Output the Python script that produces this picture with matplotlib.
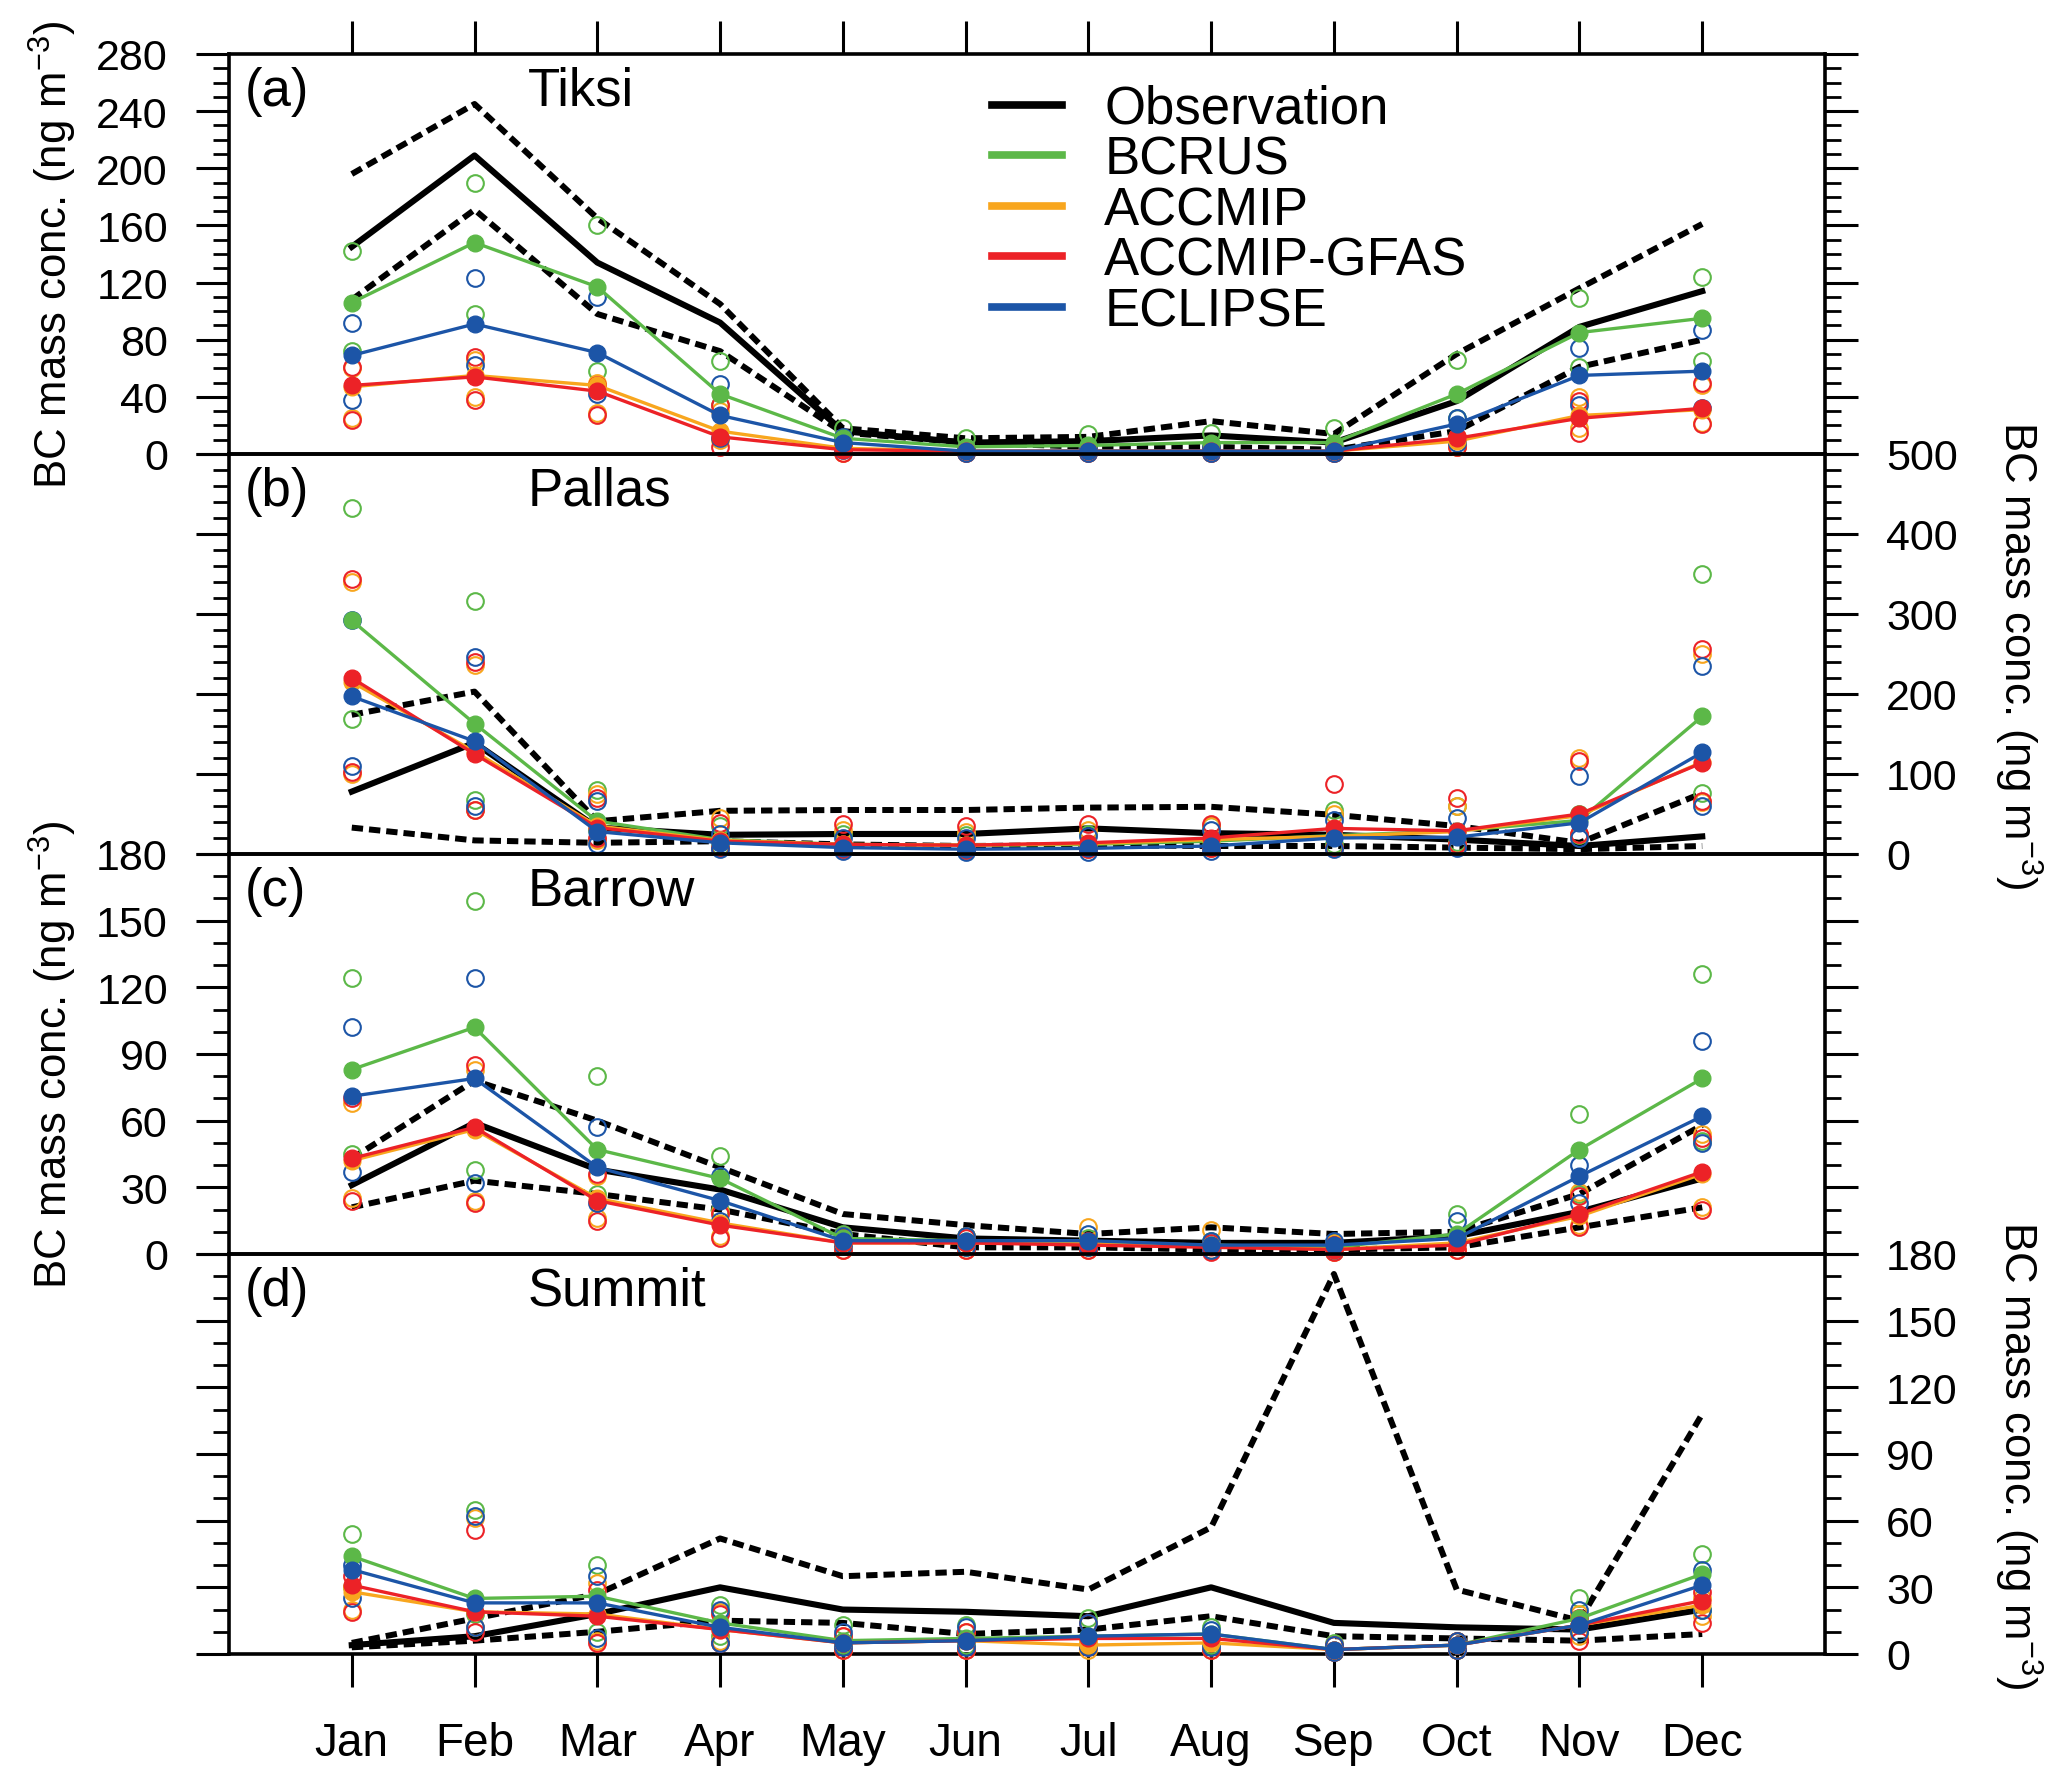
import matplotlib
matplotlib.use('Agg')
import matplotlib.pyplot as plt
from matplotlib.ticker import MultipleLocator
from matplotlib.lines import Line2D

plt.rcParams['font.family'] = ['Liberation Sans', 'DejaVu Sans']
plt.rcParams['mathtext.fontset'] = 'custom'
plt.rcParams['mathtext.rm'] = 'Liberation Sans'
plt.rcParams['mathtext.default'] = 'regular'

months = ['Jan', 'Feb', 'Mar', 'Apr', 'May', 'Jun', 'Jul', 'Aug', 'Sep', 'Oct', 'Nov', 'Dec']
model_names = ['BCRUS', 'ACCMIP', 'ACCMIP-GFAS', 'ECLIPSE']
model_colors = ['#5cb848', '#f8a61e', '#ec2227', '#1c55a7']

# ── (a) Tiksi ──
tiksi_obs    = [145, 209, 134, 92, 16, 8, 9, 13, 8, 37, 89, 114]
tiksi_obs_hi = [196, 245, 165, 105, 18, 11, 12, 23, 14, 70, 116, 161]
tiksi_obs_lo = [108, 171, 98, 72, 15, 8, 5, 5, 3, 16, 61, 80]
tiksi_bcrus    = [106, 148, 117, 42, 11, 5, 6, 8, 8, 42, 85, 95]
tiksi_bcrus_hi = [142, 190, 160, 65, 18, 11, 14, 15, 18, 66, 109, 124]
tiksi_bcrus_lo = [72, 98, 58, 34, 8, 3, 4, 5, 5, 25, 61, 65]
tiksi_accmip    = [47, 55, 48, 16, 4, 2, 2, 2, 2, 9, 27, 31]
tiksi_accmip_hi = [60, 66, 50, 30, 6, 4, 4, 4, 4, 12, 40, 48]
tiksi_accmip_lo = [25, 40, 29, 10, 1, 1, 1, 1, 1, 5, 18, 22]
tiksi_gfas    = [48, 54, 44, 12, 3, 2, 2, 2, 2, 11, 25, 32]
tiksi_gfas_hi = [61, 68, 48, 34, 5, 3, 3, 3, 3, 12, 37, 50]
tiksi_gfas_lo = [24, 38, 27, 5, 1, 1, 1, 1, 1, 5, 15, 21]
tiksi_eclipse    = [69, 91, 71, 27, 8, 2, 2, 2, 2, 21, 55, 58]
tiksi_eclipse_hi = [92, 123, 110, 49, 12, 4, 4, 5, 4, 25, 74, 87]
tiksi_eclipse_lo = [38, 62, 42, 11, 3, 1, 1, 1, 1, 8, 34, 32]

# ── (b) Pallas ──
pallas_obs    = [78, 139, 33, 24, 25, 25, 32, 26, 24, 18, 10, 22]
pallas_obs_hi = [174, 203, 41, 54, 55, 55, 58, 59, 49, 35, 14, 76]
pallas_obs_lo = [33, 17, 14, 16, 12, 10, 11, 10, 10, 8, 6, 10]
pallas_bcrus    = [292, 163, 41, 18, 12, 11, 12, 16, 23, 29, 42, 172]
pallas_bcrus_hi = [432, 316, 80, 35, 25, 24, 25, 35, 55, 60, 50, 350]
pallas_bcrus_lo = [169, 67, 30, 10, 8, 7, 8, 10, 12, 15, 24, 76]
pallas_accmip    = [215, 128, 35, 17, 12, 11, 13, 18, 22, 28, 48, 115]
pallas_accmip_hi = [340, 236, 75, 45, 30, 28, 30, 35, 50, 60, 120, 250]
pallas_accmip_lo = [100, 55, 18, 8, 6, 5, 6, 8, 8, 12, 25, 65]
pallas_gfas    = [220, 125, 33, 16, 12, 11, 14, 20, 32, 29, 50, 114]
pallas_gfas_hi = [344, 240, 70, 39, 37, 35, 38, 38, 87, 70, 116, 256]
pallas_gfas_lo = [103, 55, 20, 8, 6, 5, 6, 8, 8, 12, 25, 66]
pallas_eclipse    = [197, 141, 28, 14, 8, 6, 7, 10, 20, 21, 39, 127]
pallas_eclipse_hi = [293, 246, 66, 25, 20, 20, 22, 30, 42, 45, 97, 235]
pallas_eclipse_lo = [110, 60, 12, 6, 4, 3, 3, 4, 6, 8, 20, 60]

# ── (c) Barrow ──
barrow_obs    = [31, 59, 38, 29, 12, 7, 6, 5, 5, 8, 19, 34]
barrow_obs_hi = [43, 78, 60, 39, 18, 13, 9, 12, 9, 10, 27, 58]
barrow_obs_lo = [21, 33, 27, 20, 9, 3, 3, 2, 2, 3, 12, 21]
barrow_bcrus    = [83, 102, 47, 34, 7, 6, 5, 4, 3, 9, 47, 79]
barrow_bcrus_hi = [124, 159, 80, 44, 9, 8, 7, 6, 5, 18, 63, 126]
barrow_bcrus_lo = [45, 38, 27, 20, 4, 3, 3, 2, 2, 7, 27, 51]
barrow_accmip    = [42, 56, 25, 14, 5, 5, 5, 4, 2, 5, 17, 36]
barrow_accmip_hi = [68, 83, 35, 19, 8, 8, 12, 11, 5, 7, 28, 54]
barrow_accmip_lo = [25, 24, 16, 8, 2, 2, 2, 2, 1, 2, 13, 21]
barrow_gfas    = [43, 57, 24, 13, 5, 5, 4, 3, 2, 4, 18, 37]
barrow_gfas_hi = [70, 85, 36, 18, 7, 7, 6, 5, 4, 6, 26, 52]
barrow_gfas_lo = [24, 23, 15, 7, 2, 2, 2, 1, 1, 2, 12, 20]
barrow_eclipse    = [71, 79, 39, 24, 6, 6, 6, 4, 4, 7, 35, 62]
barrow_eclipse_hi = [102, 124, 57, 35, 8, 8, 9, 6, 6, 15, 40, 96]
barrow_eclipse_lo = [37, 32, 23, 15, 4, 3, 3, 2, 2, 5, 23, 50]

# ── (d) Summit ──
summit_obs    = [4, 8, 18, 30, 20, 19, 17, 30, 14, 12, 11, 20]
summit_obs_hi = [5, 16, 27, 52, 35, 37, 29, 57, 171, 29, 15, 108]
summit_obs_lo = [3, 6, 10, 15, 14, 9, 11, 17, 8, 7, 6, 9]
summit_bcrus    = [44, 25, 26, 14, 6, 7, 8, 9, 2, 4, 16, 36]
summit_bcrus_hi = [54, 65, 40, 22, 13, 13, 16, 12, 5, 6, 25, 45]
summit_bcrus_lo = [30, 18, 10, 8, 4, 4, 4, 4, 1, 2, 10, 20]
summit_accmip    = [28, 19, 18, 11, 5, 6, 4, 5, 2, 4, 13, 22]
summit_accmip_hi = [30, 61, 32, 19, 8, 10, 6, 7, 4, 6, 18, 25]
summit_accmip_lo = [20, 12, 6, 6, 2, 2, 2, 2, 1, 2, 8, 17]
summit_gfas    = [31, 19, 17, 11, 5, 6, 7, 7, 2, 4, 13, 24]
summit_gfas_hi = [35, 56, 29, 18, 8, 10, 14, 8, 4, 6, 16, 28]
summit_gfas_lo = [19, 10, 5, 5, 2, 2, 3, 2, 1, 2, 6, 14]
summit_eclipse    = [38, 23, 23, 12, 5, 6, 8, 9, 2, 4, 13, 31]
summit_eclipse_hi = [40, 62, 35, 20, 10, 12, 14, 11, 4, 6, 20, 38]
summit_eclipse_lo = [25, 12, 7, 5, 3, 3, 3, 3, 1, 2, 10, 20]

stations = [
    ('(a)', 'Tiksi', tiksi_obs, tiksi_obs_hi, tiksi_obs_lo,
     [(tiksi_bcrus, tiksi_bcrus_hi, tiksi_bcrus_lo), (tiksi_accmip, tiksi_accmip_hi, tiksi_accmip_lo),
      (tiksi_gfas, tiksi_gfas_hi, tiksi_gfas_lo), (tiksi_eclipse, tiksi_eclipse_hi, tiksi_eclipse_lo)]),
    ('(b)', 'Pallas', pallas_obs, pallas_obs_hi, pallas_obs_lo,
     [(pallas_bcrus, pallas_bcrus_hi, pallas_bcrus_lo), (pallas_accmip, pallas_accmip_hi, pallas_accmip_lo),
      (pallas_gfas, pallas_gfas_hi, pallas_gfas_lo), (pallas_eclipse, pallas_eclipse_hi, pallas_eclipse_lo)]),
    ('(c)', 'Barrow', barrow_obs, barrow_obs_hi, barrow_obs_lo,
     [(barrow_bcrus, barrow_bcrus_hi, barrow_bcrus_lo), (barrow_accmip, barrow_accmip_hi, barrow_accmip_lo),
      (barrow_gfas, barrow_gfas_hi, barrow_gfas_lo), (barrow_eclipse, barrow_eclipse_hi, barrow_eclipse_lo)]),
    ('(d)', 'Summit', summit_obs, summit_obs_hi, summit_obs_lo,
     [(summit_bcrus, summit_bcrus_hi, summit_bcrus_lo), (summit_accmip, summit_accmip_hi, summit_accmip_lo),
      (summit_gfas, summit_gfas_hi, summit_gfas_lo), (summit_eclipse, summit_eclipse_hi, summit_eclipse_lo)]),
]

# axis settings per panel: (ymax, major, minor, labels on right?)
yaxes = [(280, 40, 10, False), (500, 100, 20, True), (180, 30, 10, False), (180, 30, 10, True)]

ylab = 'BC mass conc. (ng m$^{-3}$)'
x = list(range(12))

fig = plt.figure(figsize=(20.67, 17.9), dpi=100)
left, width = 229 / 2067, 1596 / 2067
ph = 400 / 1790
bottom0 = 1 - 1655 / 1790

axes = []
for i, (tag, name, obs, hi, lo, models) in enumerate(stations):
    ax = fig.add_axes([left, bottom0 + (3 - i) * ph, width, ph])
    ax.set_facecolor('none')
    axes.append(ax)

    ax.plot(x, obs, color='black', lw=4.4, zorder=2)
    ax.plot(x, hi, color='black', lw=4.3, ls=(0, (1.9, 1.0)), zorder=2)
    ax.plot(x, lo, color='black', lw=4.3, ls=(0, (1.9, 1.0)), zorder=2)

    for (mean, mhi, mlo), col in zip(models, model_colors):
        ax.plot(x, mhi, ls='none', marker='o', ms=12, mfc='none', mec=col, mew=1.5,
                zorder=3, clip_on=False)
        ax.plot(x, mlo, ls='none', marker='o', ms=12, mfc='none', mec=col, mew=1.5,
                zorder=3, clip_on=False)
    for (mean, mhi, mlo), col in zip(models, model_colors):
        ax.plot(x, mean, color=col, lw=2.4, marker='o', ms=12, mfc=col, mec=col,
                zorder=4, clip_on=False)

    ymax, major, minor, on_right = yaxes[i]
    ax.set_xlim(-1, 12)
    ax.set_ylim(0, ymax)
    ax.yaxis.set_major_locator(MultipleLocator(major))
    ax.yaxis.set_minor_locator(MultipleLocator(minor))
    ax.tick_params(axis='y', which='both', direction='out', left=True, right=True,
                   labelleft=not on_right, labelright=on_right, labelsize=31)
    ax.tick_params(axis='y', which='major', length=24, width=2.2, pad=20)
    ax.tick_params(axis='y', which='minor', length=11.5, width=2.0)
    for s in ax.spines.values():
        s.set_linewidth(2.6)

    ax.set_xticks(x)
    ax.set_xticklabels(months)
    if i == 0:
        ax.tick_params(axis='x', direction='out', top=True, bottom=False,
                       labeltop=False, labelbottom=False, length=24, width=2.2)
    elif i == 3:
        ax.tick_params(axis='x', direction='out', top=False, bottom=True,
                       labelbottom=True, length=24, width=2.2, pad=24, labelsize=33)
    else:
        ax.tick_params(axis='x', top=False, bottom=False, labelbottom=False)

    if on_right:
        ax.yaxis.set_label_position('right')
        ax.set_ylabel(ylab, fontsize=31.5, rotation=-90, va='center', ha='center')
        ax.yaxis.set_label_coords(1.121, 0.5)
    else:
        ax.set_ylabel(ylab, fontsize=31.5, rotation=90, va='center', ha='center')
        ax.yaxis.set_label_coords(-0.110, 0.5)

    ax.text(0.010, 0.873, tag, transform=ax.transAxes, fontsize=38, va='baseline')
    ax.text(0.187, 0.873, name, transform=ax.transAxes, fontsize=38, va='baseline')

handles = [Line2D([0], [0], color='black', lw=5.5)] + \
          [Line2D([0], [0], color=c, lw=5.5) for c in model_colors]
labels = ['Observation'] + model_names
axes[0].legend(handles, labels, loc='upper left', bbox_to_anchor=(0.478, 0.925),
               frameon=False, fontsize=38, handlelength=1.33, handletextpad=0.8,
               labelspacing=0.01, borderpad=0, borderaxespad=0)

fig.savefig('out.png', dpi=100)
